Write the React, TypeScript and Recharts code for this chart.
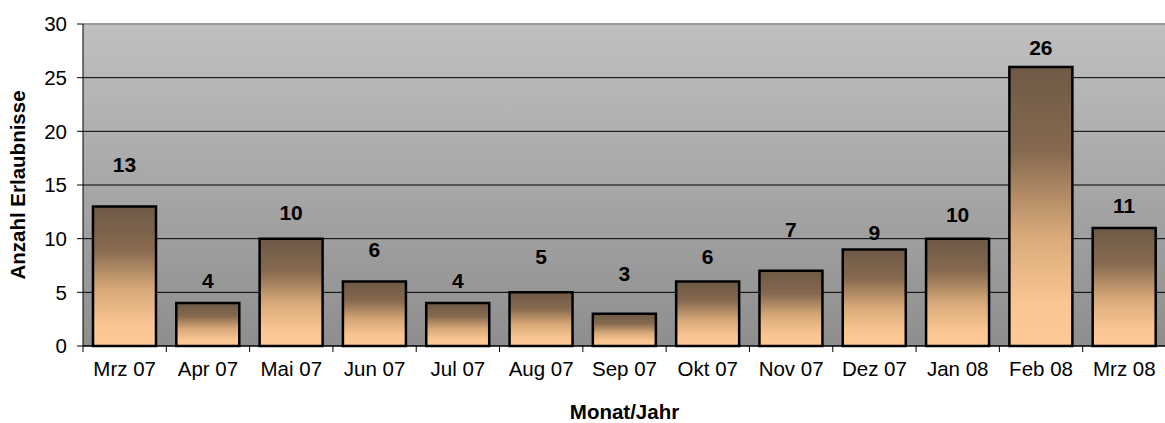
import { BarChart, Bar, XAxis, YAxis, CartesianGrid, ReferenceLine, LabelList, Label } from 'recharts';

const months = ['Mrz 07', 'Apr 07', 'Mai 07', 'Jun 07', 'Jul 07', 'Aug 07', 'Sep 07', 'Okt 07', 'Nov 07', 'Dez 07', 'Jan 08', 'Feb 08', 'Mrz 08'];
const permits = [13, 4, 10, 6, 4, 5, 3, 6, 7, 9, 10, 26, 11];
// where the value labels sit, in axis units (they float oddly in the original)
const labelHeights = [16.87, 6.15, 12.4, 8.95, 6.15, 8.3, 6.8, 8.3, 10.9, 10.6, 12.3, 27.8, 13.1];
const yTicks = [0, 5, 10, 15, 20, 25, 30];

const data = months.map((month, i) => ({ month, value: permits[i] }));

const FONT = '"Liberation Sans", Arial, sans-serif';
const CHART_W = 1166;
const CHART_H = 423;
const Y_AXIS_W = 83;
const MARGIN = { top: 24, right: 0, left: 0, bottom: 0 };
const band = (CHART_W - Y_AXIS_W - MARGIN.left - MARGIN.right) / months.length;

function MonthTick(props: any) {
  const { x, y, payload } = props;
  return (
    <g>
      <line x1={x - band / 2} x2={x - band / 2} y1={y} y2={y + 6} stroke="#000" strokeWidth={1} />
      <text x={x} y={y + 30} textAnchor="middle" fontFamily={FONT} fontSize={20.5} fill="#000">
        {payload.value}
      </text>
    </g>
  );
}

function ValueLabel(props: any) {
  const { x, y, width, height, value, index } = props;
  const h = Number(height);
  const unit = h / Number(value);
  const ly = Number(y) + h - labelHeights[index] * unit;
  return (
    <text
      x={Number(x) + Number(width) / 2}
      y={ly}
      dy="0.36em"
      textAnchor="middle"
      fontFamily={FONT}
      fontWeight="bold"
      fontSize={21}
      fill="#000"
    >
      {value}
    </text>
  );
}

export default function App() {
  return (
    <div style={{ position: 'absolute', left: 0, top: 0, width: 1165, height: CHART_H, overflow: 'hidden', background: '#fff' }}>
      <BarChart width={CHART_W} height={CHART_H} data={data} margin={MARGIN} barCategoryGap="12%">
        <defs>
          <linearGradient id="plotBg" x1="0" y1="0" x2="0" y2="1">
            <stop offset="0%" stopColor="#c0c0c0" />
            <stop offset="100%" stopColor="#8e8e8e" />
          </linearGradient>
          <linearGradient id="barFill" x1="0" y1="0" x2="0" y2="1">
            <stop offset="0%" stopColor="#6e5a47" />
            <stop offset="30%" stopColor="#86694f" />
            <stop offset="60%" stopColor="#d8a979" />
            <stop offset="85%" stopColor="#f9c693" />
            <stop offset="100%" stopColor="#fdca96" />
          </linearGradient>
        </defs>
        <CartesianGrid vertical={false} stroke="#000" fill="url(#plotBg)" fillOpacity={1} />
        <XAxis
          dataKey="month"
          axisLine={{ stroke: '#000', strokeWidth: 1 }}
          tickLine={false}
          tickSize={0}
          tickMargin={0}
          height={CHART_H - 346}
          interval={0}
          tick={<MonthTick />}
        >
          <Label
            value="Monat/Jahr"
            position="insideBottom"
            offset={4}
            style={{ fontFamily: FONT, fontWeight: 'bold', fontSize: 20.5, fill: '#000' }}
          />
        </XAxis>
        <YAxis
          width={Y_AXIS_W}
          domain={[0, 30]}
          ticks={yTicks}
          interval={0}
          axisLine={{ stroke: '#000', strokeWidth: 1 }}
          tickLine={{ stroke: '#000', strokeWidth: 1 }}
          tickSize={6}
          tickMargin={10}
          tick={{ fontFamily: FONT, fontSize: 20.5, fill: '#000' }}
        >
          <Label
            value="Anzahl Erlaubnisse"
            angle={-90}
            position="insideLeft"
            offset={18}
            style={{ fontFamily: FONT, fontWeight: 'bold', fontSize: 20.5, fill: '#000', textAnchor: 'middle' }}
          />
        </YAxis>
        <ReferenceLine y={30} stroke="#9a9a9a" strokeWidth={2} />
        <Bar dataKey="value" fill="url(#barFill)" stroke="#000" strokeWidth={2.5} isAnimationActive={false}>
          <LabelList dataKey="value" content={<ValueLabel />} />
        </Bar>
      </BarChart>
    </div>
  );
}
